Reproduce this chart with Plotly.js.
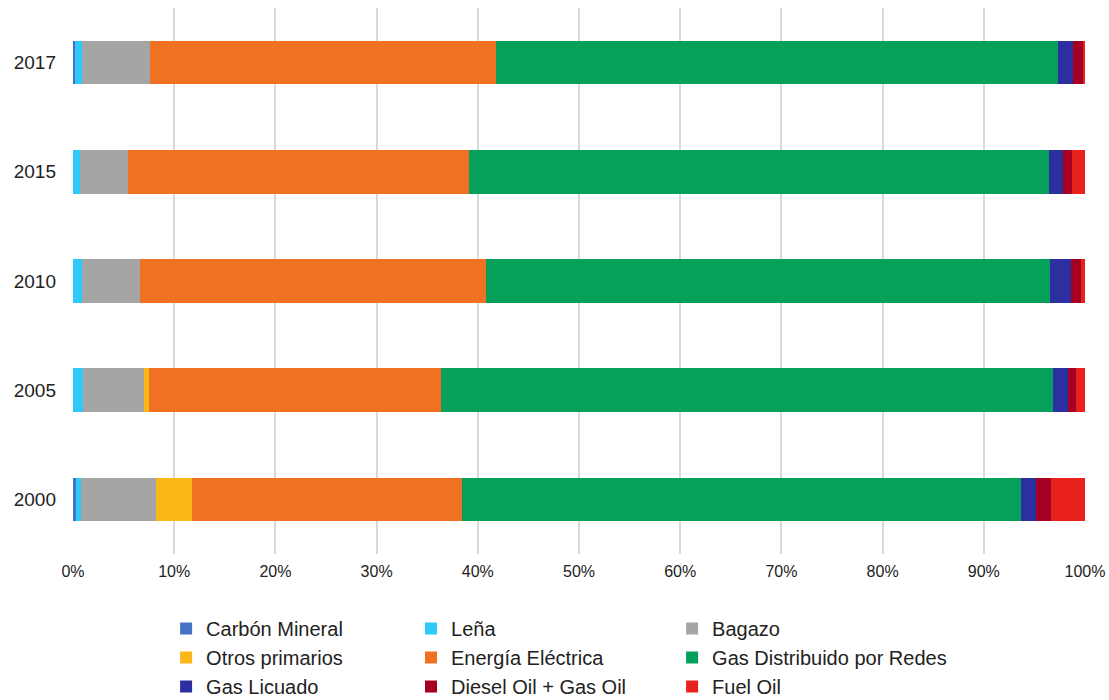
<!DOCTYPE html>
<html>
<head>
<meta charset="utf-8">
<script src="https://cdn.plot.ly/plotly-3.0.1.min.js"></script>
<style>
  html, body { margin: 0; padding: 0; background: #ffffff; }
  #chart { width: 1109px; height: 700px; }
</style>
</head>
<body>
<div id="chart"></div>
<script>
// Years, bottom to top
const years = ['2000', '2005', '2010', '2015', '2017'];

// Share of final consumption by source (%), one array per source, aligned with years
const carbonMineral   = [0.33, 0.00, 0.00, 0.00, 0.20];
const lena            = [0.49, 0.99, 0.92, 0.65, 0.72];
const bagazo          = [7.41, 5.98, 5.73, 4.78, 6.64];
const otrosPrimarios  = [3.52, 0.56, 0.00, 0.00, 0.00];
const energiaElectrica= [26.69, 28.84, 34.15, 33.71, 34.24];
const gasDistribuido  = [55.21, 60.47, 55.78, 57.27, 55.53];
const gasLicuado      = [1.48, 1.48, 2.08, 1.42, 1.47];
const dieselGasOil    = [1.51, 0.82, 0.98, 0.93, 0.99];
const fuelOil         = [3.36, 0.86, 0.36, 1.24, 0.21];

const seriesNames = [
  'Carbón Mineral', 'Leña', 'Bagazo',
  'Otros primarios', 'Energía Eléctrica', 'Gas Distribuido por Redes',
  'Gas Licuado', 'Diesel Oil + Gas Oil', 'Fuel Oil'
];
const seriesValues = [
  carbonMineral, lena, bagazo,
  otrosPrimarios, energiaElectrica, gasDistribuido,
  gasLicuado, dieselGasOil, fuelOil
];
const seriesColors = [
  '#4472C4', '#2EC9FA', '#A5A5A5',
  '#FBB617', '#F07122', '#05A15A',
  '#2B2FA0', '#A50021', '#E8211D'
];

// The key is laid out in three columns, one legend per column
const legendIds = ['legend', 'legend2', 'legend3'];

const traces = seriesNames.map((name, i) => ({
  type: 'bar',
  orientation: 'h',
  name: name,
  y: years,
  x: seriesValues[i],
  legend: legendIds[i % 3],
  marker: { color: seriesColors[i], line: { width: 0 } },
  hovertemplate: '%{y}: %{x:.1f}%<extra>' + name + '</extra>'
}));

function legendColumn(x) {
  return {
    orientation: 'v',
    xref: 'paper',
    x: x,
    xanchor: 'left',
    yref: 'container',
    y: 0.130,
    yanchor: 'top',
    traceorder: 'normal',
    font: { size: 20, color: '#222222' },
    bgcolor: 'rgba(0,0,0,0)'
  };
}

const layout = {
  width: 1109,
  height: 700,
  paper_bgcolor: '#ffffff',
  plot_bgcolor: '#ffffff',
  font: { family: 'Liberation Sans, Arial, sans-serif', color: '#222222' },
  margin: { l: 73, r: 24, t: 8, b: 146, pad: 0 },
  barmode: 'stack',
  barnorm: 'percent',
  bargap: 0.6,
  showlegend: true,
  xaxis: {
    range: [0, 100],
    dtick: 10,
    ticksuffix: '%',
    showgrid: true,
    gridcolor: '#D9D9D9',
    gridwidth: 2,
    zeroline: false,
    showline: false,
    ticks: '',
    ticklabelstandoff: 6,
    tickfont: { size: 16, color: '#222222' },
    fixedrange: true
  },
  yaxis: {
    type: 'category',
    categoryorder: 'array',
    categoryarray: years,
    showgrid: false,
    zeroline: false,
    showline: false,
    ticks: '',
    ticklabelstandoff: 16,
    tickfont: { size: 19, color: '#222222' },
    fixedrange: true
  },
  legend: legendColumn(0.092),
  legend2: legendColumn(0.334),
  legend3: legendColumn(0.592)
};

Plotly.newPlot('chart', traces, layout, { displayModeBar: false, responsive: false });
</script>
</body>
</html>
